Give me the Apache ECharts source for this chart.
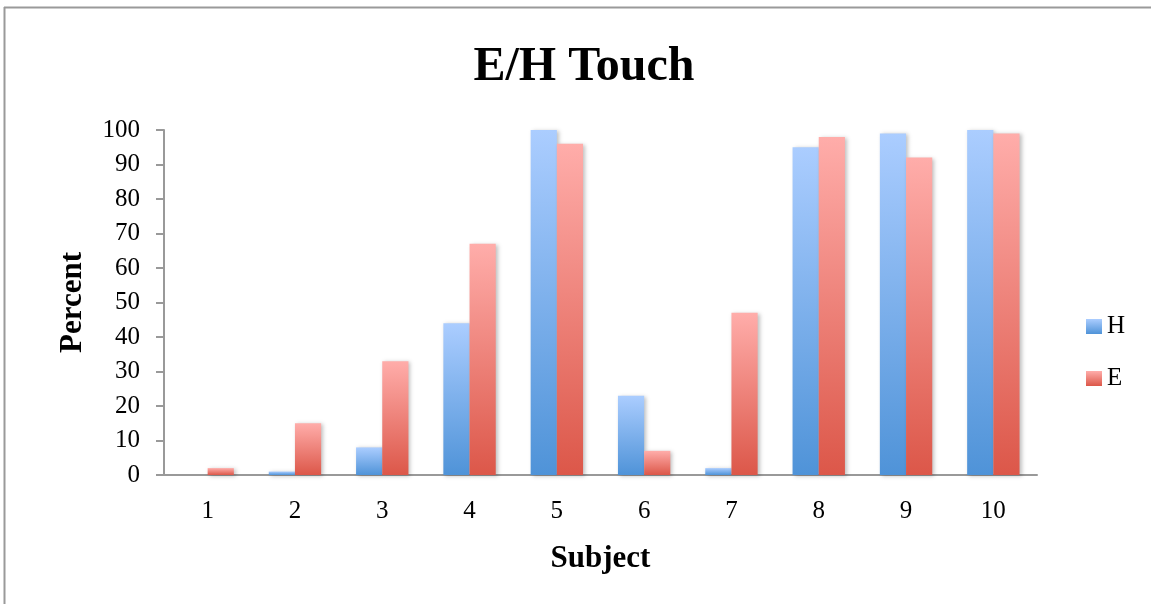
<!DOCTYPE html>
<html>
<head>
<meta charset="utf-8">
<script src="https://cdn.jsdelivr.net/npm/echarts@6/dist/echarts.min.js"></script>
<style>
  html, body { margin: 0; padding: 0; background: #fff; }
  #chart { width: 1151px; height: 604px; }
</style>
</head>
<body>
<div id="chart"></div>
<script>
// Subjects and touch percentages for hand (H) and eye (E)
const subjects = ['1', '2', '3', '4', '5', '6', '7', '8', '9', '10'];
const hValues = [0, 1, 8, 44, 100, 23, 2, 95, 99, 100];
const eValues = [2, 15, 33, 67, 96, 7, 47, 98, 92, 99];
const yTicks = { min: 0, max: 100, interval: 10 };

const serif = '"Liberation Serif", "DejaVu Serif", serif';

function vGrad(top, bottom) {
  return new echarts.graphic.LinearGradient(0, 0, 0, 1, [
    { offset: 0, color: top },
    { offset: 1, color: bottom }
  ]);
}
const blue = vGrad('#abcdff', '#4f93d8');
const red = vGrad('#ffadaa', '#dc5749');

const chart = echarts.init(document.getElementById('chart'));
chart.setOption({
  backgroundColor: '#fff',
  animation: false,
  title: {
    text: 'E/H Touch',
    left: 579,
    textAlign: 'center',
    top: 39,
    textStyle: { fontFamily: serif, fontSize: 48, fontWeight: 'bold', color: '#000' }
  },
  graphic: [
    { type: 'line', shape: { x1: 4, y1: 7.5, x2: 1151, y2: 7.5 }, style: { stroke: '#9a9a9a', lineWidth: 2 } },
    { type: 'line', shape: { x1: 4.5, y1: 7, x2: 4.5, y2: 604 }, style: { stroke: '#9a9a9a', lineWidth: 2 } }
  ],
  legend: {
    orient: 'vertical',
    left: 1081,
    top: 309,
    itemWidth: 16,
    itemHeight: 15,
    itemGap: 27,
    icon: 'rect',
    textStyle: { fontFamily: serif, fontSize: 25, lineHeight: 25, color: '#000' },
    data: ['H', 'E']
  },
  grid: { left: 164, right: 114, top: 130, bottom: 129, containLabel: false },
  xAxis: {
    type: 'category',
    data: subjects,
    name: 'Subject',
    nameLocation: 'middle',
    nameGap: 68,
    nameTextStyle: { fontFamily: serif, fontSize: 31, fontWeight: 'bold', color: '#000' },
    axisLine: { lineStyle: { color: '#999', width: 2 } },
    axisTick: { show: false },
    axisLabel: { fontFamily: serif, fontSize: 25, color: '#000', margin: 24 }
  },
  yAxis: {
    type: 'value',
    min: yTicks.min,
    max: yTicks.max,
    interval: yTicks.interval,
    name: 'Percent',
    nameLocation: 'middle',
    nameGap: 76,
    nameTextStyle: { fontFamily: serif, fontSize: 31, fontWeight: 'bold', color: '#000' },
    axisLine: { show: true, lineStyle: { color: '#999', width: 2 } },
    axisTick: { show: true, length: 8, lineStyle: { color: '#999', width: 2 } },
    splitLine: { show: false },
    axisLabel: { fontFamily: serif, fontSize: 25, color: '#000', margin: 24 }
  },
  series: [
    {
      name: 'H',
      type: 'bar',
      data: hValues,
      barGap: '0%',
      barCategoryGap: '40%',
      itemStyle: { color: blue, shadowColor: 'rgba(0,0,0,0.25)', shadowBlur: 4, shadowOffsetX: 2, shadowOffsetY: 1 }
    },
    {
      name: 'E',
      type: 'bar',
      data: eValues,
      barGap: '0%',
      barCategoryGap: '40%',
      itemStyle: { color: red, shadowColor: 'rgba(0,0,0,0.25)', shadowBlur: 4, shadowOffsetX: 2, shadowOffsetY: 1 }
    }
  ]
});
</script>
</body>
</html>
